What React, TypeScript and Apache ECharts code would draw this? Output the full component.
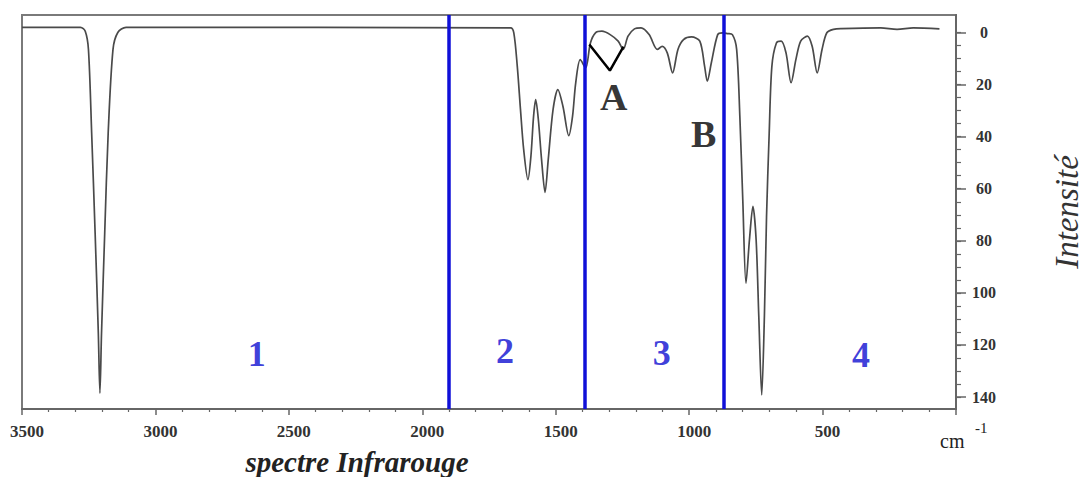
import React, { useEffect, useRef } from 'react';
import * as echarts from 'echarts';

// IR spectrum: wavenumber (cm-1) and intensity
const wavenumbers = [
  3500, 3281, 3263, 3251, 3239, 3226, 3214, 3208, 3202, 3190, 3177, 3159, 3141, 3110,
  1669, 1657, 1644, 1632, 1620, 1604, 1593, 1583, 1575, 1565, 1553, 1540, 1528, 1510,
  1492, 1473, 1451, 1437, 1425, 1408, 1388, 1370, 1351, 1327, 1296, 1266, 1247, 1229,
  1205, 1180, 1150, 1119, 1101, 1082, 1062, 1042, 1021, 991, 960, 942, 932, 917,
  893, 875, 856, 838, 822, 810, 799, 787, 774, 761, 749, 739, 728, 718, 710, 700, 690,
  673, 655, 637, 618, 600, 582, 557, 539, 520, 502, 484, 459, 429, 282, 221, 160, 62,
];
const intensities = [
  -2, -2, -0.5, 6.5, 38.5, 76.9, 115.4, 138.5, 115.4, 76.9, 38.5, 6.5, 0, -2,
  -1.8, 0.1, 13, 29.6, 45, 56.5, 47.6, 32.2, 25.8, 33.5, 48.8, 61.4, 48.8, 29.6,
  21.9, 28.3, 39.6, 32.2, 19.3, 10.4, 13.6, 4, 0.1, -0.5, 0.8, 3.3, 6.5, 1.4,
  -1.4, -1.8, 0.8, 6.5, 5.3, 7.8, 15.5, 6.5, 2.7, 1.7, 3.3, 13, 18.7, 11.7,
  0.8, 0.1, 0.4, 0.8, 6.5, 32.2, 64.2, 96.3, 79.6, 66.8, 79.6, 109, 139.2, 109, 70.7, 38.6, 13,
  4, 3.3, 7.8, 19.3, 10.4, 3.3, 1.4, 5.3, 15.5, 6.5, 0.1, -1.2, -1.5, -1.8, -1.2, -1.8, -1.4,
];

// Region boundaries (blue lines)
const bandLimits = [1902, 1393, 872];

// Region numbers
const regionNames = ['1', '2', '3', '4'];
const regionX = [2620, 1690, 1103, 356];
const regionY = [123.5, 122.3, 123, 124];

// Peak annotations
const peakNames = ['A', 'B'];
const peakX = [1283, 946];
const peakY = [24.6, 38.8];

// V-shaped pointer near A
const pointerX = [1374, 1297, 1246];
const pointerY = [4.6, 14.6, 5.4];

// Axis ticks
const yLabelValues = [0, 20, 40, 60, 80, 100, 120, 140];
const yMinorValues = [0, 5, 10, 15, 20, 25, 30, 35, 40, 45, 50, 55, 60, 65, 70, 75, 80, 85, 90, 95, 100, 105, 110, 115, 120, 125, 130, 135, 140];

const SERIF = '"Liberation Serif", "DejaVu Serif", serif';
const Y_MIN = -6.73;
const Y_MAX = 144.6;

export default function App() {
  const ref = useRef<HTMLDivElement>(null);

  useEffect(() => {
    if (!ref.current) return;
    const chart = echarts.init(ref.current, undefined, { renderer: 'svg' });

    const spectrum = wavenumbers.map((w, i) => [w, intensities[i]]);
    const pointer = pointerX.map((w, i) => [w, pointerY[i]]);
    const regions = regionNames.map((n, i) => ({ name: n, value: [regionX[i], regionY[i]] }));
    const peaks = peakNames.map((n, i) => ({ name: n, value: [peakX[i], peakY[i]] }));

    chart.setOption({
      animation: false,
      backgroundColor: '#ffffff',
      grid: {
        left: 22,
        right: 114,
        top: 15,
        bottom: 68,
        show: true,
        borderColor: '#7a7a7a',
        borderWidth: 2,
        backgroundColor: '#ffffff',
      },
      xAxis: {
        type: 'value',
        min: 0,
        max: 3500,
        interval: 500,
        inverse: true,
        position: 'bottom',
        axisLine: { show: true, onZero: false, lineStyle: { color: '#666', width: 2 } },
        axisTick: { show: true, length: 6, lineStyle: { color: '#666', width: 1.5 } },
        minorTick: { show: true, splitNumber: 5, length: 3, lineStyle: { color: '#666', width: 1.2 } },
        axisLabel: {
          formatter: (v: number) => (v === 0 ? '' : String(v)),
          color: '#333',
          fontFamily: SERIF,
          fontWeight: 'bold',
          fontSize: 17,
          margin: 14,
          padding: [0, 0, 0, 10],
        },
        splitLine: { show: false },
        minorSplitLine: { show: false },
      },
      yAxis: [
        {
          type: 'value',
          position: 'right',
          min: Y_MIN,
          max: Y_MAX,
          inverse: true,
          axisLine: { show: true, onZero: false, lineStyle: { color: '#666', width: 2 } },
          axisTick: { show: true, customValues: yLabelValues, length: 10, lineStyle: { color: '#666', width: 1.5 } },
          axisLabel: {
            customValues: yLabelValues,
            color: '#333',
            fontFamily: SERIF,
            fontWeight: 'bold',
            fontSize: 16,
            align: 'center',
            margin: 28,
          },
          splitLine: { show: false },
          name: 'Intensité',
          nameLocation: 'middle',
          nameRotate: 90,
          nameGap: 94,
          nameTextStyle: {
            fontFamily: SERIF,
            fontStyle: 'italic',
            fontSize: 33,
            color: '#333',
          },
        },
        {
          type: 'value',
          position: 'right',
          min: Y_MIN,
          max: Y_MAX,
          inverse: true,
          axisLine: { show: false, onZero: false },
          axisTick: { show: true, customValues: yMinorValues, length: 5, lineStyle: { color: '#666', width: 1.2 } },
          axisLabel: { show: false },
          splitLine: { show: false },
        },
      ],
      series: [
        {
          type: 'line',
          name: 'spectre',
          data: spectrum,
          smooth: 0.3,
          symbol: 'none',
          lineStyle: { color: '#4a4a4a', width: 1.7 },
          z: 3,
          markLine: {
            symbol: 'none',
            silent: true,
            label: { show: false },
            lineStyle: { color: '#1010d8', width: 3.5, type: 'solid' },
            data: bandLimits.map((x) => ({ xAxis: x })),
          },
        },
        {
          type: 'line',
          name: 'pointer',
          data: pointer,
          symbol: 'none',
          lineStyle: { color: '#000', width: 2.5 },
          z: 4,
        },
        {
          type: 'scatter',
          name: 'regions',
          data: regions,
          symbolSize: 1,
          itemStyle: { color: 'transparent' },
          label: {
            show: true,
            position: 'inside',
            formatter: '{b}',
            color: '#0c0cd0',
            textBorderWidth: 0,
            textBorderColor: 'transparent',
            fontFamily: SERIF,
            fontWeight: 'bold',
            fontSize: 36,
          },
          z: 5,
        },
        {
          type: 'scatter',
          name: 'peaks',
          data: peaks,
          symbolSize: 1,
          itemStyle: { color: 'transparent' },
          label: {
            show: true,
            position: 'inside',
            formatter: '{b}',
            color: '#000',
            textBorderWidth: 0,
            textBorderColor: 'transparent',
            fontFamily: SERIF,
            fontWeight: 'bold',
            fontSize: 38,
          },
          z: 5,
        },
      ],
      graphic: [
        {
          type: 'text',
          x: 357,
          y: 462,
          style: {
            text: 'spectre Infrarouge',
            font: `italic bold 29px ${SERIF}`,
            fill: '#222',
            textAlign: 'center',
            textVerticalAlign: 'middle',
          },
        },
        {
          type: 'text',
          x: 940,
          y: 441,
          style: {
            text: 'cm',
            font: `20px ${SERIF}`,
            fill: '#222',
            textAlign: 'left',
            textVerticalAlign: 'middle',
          },
        },
        {
          type: 'text',
          x: 975,
          y: 428,
          style: {
            text: '-1',
            font: `15px ${SERIF}`,
            fill: '#222',
            textAlign: 'left',
            textVerticalAlign: 'middle',
          },
        },
      ],
    });

    return () => chart.dispose();
  }, []);

  return (
    <div
      ref={ref}
      style={{ position: 'absolute', left: 0, top: 0, width: 1091, height: 477 }}
    />
  );
}
